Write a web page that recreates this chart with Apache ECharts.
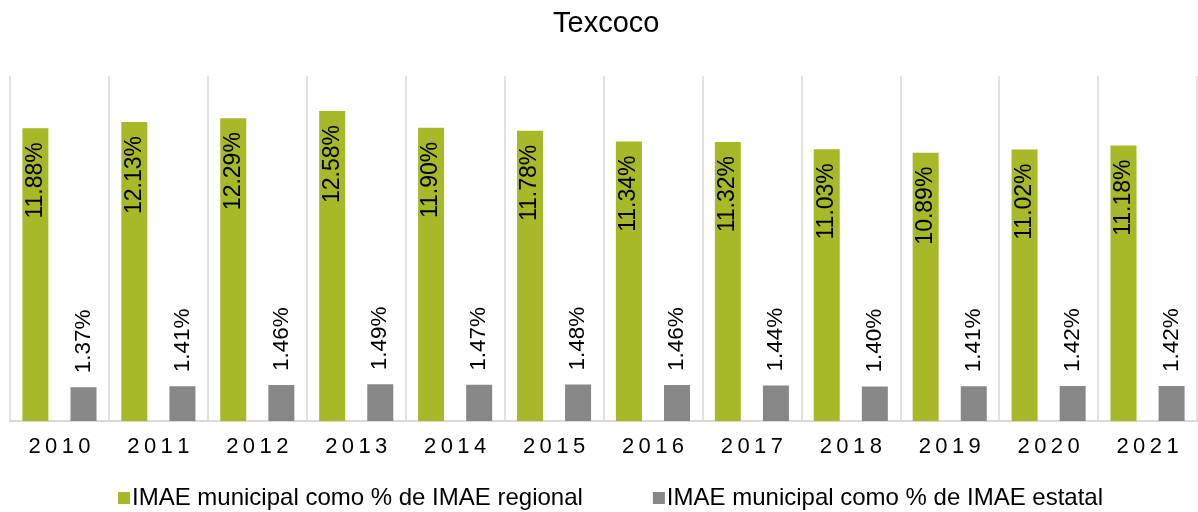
<!DOCTYPE html>
<html>
<head>
<meta charset="utf-8">
<script src="https://cdn.jsdelivr.net/npm/echarts@6/dist/echarts.min.js"></script>
<style>
html, body { margin: 0; padding: 0; background: #fff; }
#main { width: 1198px; height: 512px; }
</style>
</head>
<body>
<div id="main"></div>
<script>
// datos
var years = ['2010', '2011', '2012', '2013', '2014', '2015', '2016', '2017', '2018', '2019', '2020', '2021'];
var regional = [11.88, 12.13, 12.29, 12.58, 11.90, 11.78, 11.34, 11.32, 11.03, 10.89, 11.02, 11.18];
var estatal = [1.37, 1.41, 1.46, 1.49, 1.47, 1.48, 1.46, 1.44, 1.40, 1.41, 1.42, 1.42];
var serieNames = ['IMAE municipal como % de IMAE regional', 'IMAE municipal como % de IMAE estatal'];

var font = 'Liberation Sans, Arial, sans-serif';
var myChart = echarts.init(document.getElementById('main'));

function pct(p) {
	return p.value.toFixed(2) + '%';
}

myChart.setOption({
	animation: false,
	title: {
		text: 'Texcoco',
		left: 548,
		top: 4,
		textStyle: { fontFamily: font, fontSize: 29, fontWeight: 'normal', color: '#000' }
	},
	legend: {
		top: 481,
		left: 113,
		itemGap: 70,
		itemWidth: 12,
		itemHeight: 12,
		icon: 'rect',
		textStyle: { fontFamily: font, fontSize: 24, color: '#000', padding: [0, 0, 0, -3] },
		data: serieNames
	},
	grid: { left: 10, right: 1, top: 76, bottom: 91 },
	xAxis: {
		type: 'category',
		data: years,
		axisTick: { show: false },
		axisLine: { lineStyle: { color: '#d9d9d9', width: 2 } },
		splitLine: { show: true, lineStyle: { color: '#d9d9d9', width: 1.5 } },
		axisLabel: {
			margin: 15,
			fontFamily: font,
			fontSize: 22,
			color: '#000',
			formatter: function (v) { return v.split('').join('\u2009'); }
		}
	},
	yAxis: {
		type: 'value',
		min: 0,
		max: 14,
		show: false,
		splitLine: { show: false }
	},
	series: [{
		name: serieNames[0],
		type: 'bar',
		data: regional,
		barWidth: 26,
		barGap: '85%',
		itemStyle: { color: '#a7b828' },
		label: {
			show: true,
			position: 'insideTop',
			rotate: 90,
			align: 'right',
			verticalAlign: 'middle',
			distance: 14,
			fontFamily: font,
			fontSize: 23,
			color: '#000',
			formatter: pct
		}
	}, {
		name: serieNames[1],
		type: 'bar',
		data: estatal,
		barWidth: 26,
		itemStyle: { color: '#878787' },
		label: {
			show: true,
			position: 'top',
			rotate: 90,
			align: 'left',
			verticalAlign: 'middle',
			distance: 14,
			fontFamily: font,
			fontSize: 22.5,
			color: '#000',
			formatter: pct
		}
	}]
});
</script>
</body>
</html>
